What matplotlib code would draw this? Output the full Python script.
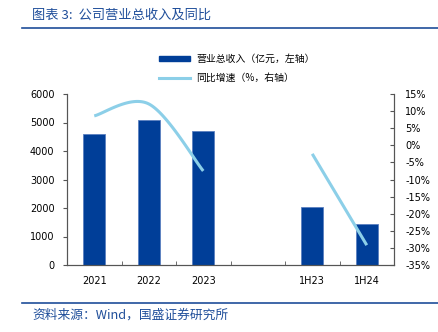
import matplotlib.pyplot as plt
import numpy as np
from matplotlib.lines import Line2D
from matplotlib.patches import Patch

plt.rcParams['font.family'] = ['DejaVu Sans', 'Noto Sans CJK SC']

categories = ['2021', '2022', '2023', '', '1H23', '1H24']
revenue = [4590, 5090, 4700, np.nan, 2025, 1425]      # 亿元
growth_full = [8.6, 12.1, -7.5]                        # %, 2021-2023
growth_half = [-2.5, -29.2]                            # %, 1H23-1H24

BAR_COLOR = '#003e98'
LINE_COLOR = '#8ccfe8'
TEXT_BLUE = '#1f4e9a'


def suavizar(xs, ys, pasos=40):
    # curva suavizada tipo Catmull-Rom entre los puntos dados
    xs = np.asarray(xs, float)
    ys = np.asarray(ys, float)
    n = len(xs)
    px, py = [], []
    for i in range(n - 1):
        p0 = (xs[max(i - 1, 0)], ys[max(i - 1, 0)])
        p1 = (xs[i], ys[i])
        p2 = (xs[i + 1], ys[i + 1])
        p3 = (xs[min(i + 2, n - 1)], ys[min(i + 2, n - 1)])
        c1 = (p1[0] + (p2[0] - p0[0]) / 6, p1[1] + (p2[1] - p0[1]) / 6)
        c2 = (p2[0] - (p3[0] - p1[0]) / 6, p2[1] - (p3[1] - p1[1]) / 6)
        t = np.linspace(0, 1, pasos)
        b0, b1, b2, b3 = (1 - t) ** 3, 3 * t * (1 - t) ** 2, 3 * t ** 2 * (1 - t), t ** 3
        px.extend(b0 * p1[0] + b1 * c1[0] + b2 * c2[0] + b3 * p2[0])
        py.extend(b0 * p1[1] + b1 * c1[1] + b2 * c2[1] + b3 * p2[1])
    return px, py


fig = plt.figure(figsize=(4.38, 3.32), dpi=100)
ax = fig.add_axes([67 / 438, 1 - 265 / 332, (394 - 67) / 438, (265 - 94) / 332])
ax2 = ax.twinx()

x = np.arange(len(categories))
ax.bar(x, revenue, width=0.4, color=BAR_COLOR, edgecolor='#5a7fc0', linewidth=0.6, zorder=2)
ax.set_xlim(-0.5, len(categories) - 0.5)
ax.set_ylim(0, 6000)
ax.set_yticks(np.arange(0, 6001, 1000))
ax.set_xticks(x)
ax.set_xticklabels(categories)
ax.set_xticks(np.arange(-0.5, len(categories), 1), minor=True)
ax.tick_params(axis='x', which='major', length=0, labelsize=7, pad=8)
ax.tick_params(axis='x', which='minor', direction='in', length=3, color='#555555')
ax.tick_params(axis='y', direction='out', length=3, labelsize=7, pad=6, color='#555555')

sx, sy = suavizar(x[:3], growth_full)
ax2.plot(sx, sy, color=LINE_COLOR, lw=2.2, solid_capstyle='butt', zorder=3)
ax2.plot(x[4:], growth_half, color=LINE_COLOR, lw=2.2, solid_capstyle='butt', zorder=3)
ax2.set_ylim(-35, 15)
ax2.set_yticks(np.arange(-35, 16, 5))
ax2.set_yticklabels([f'{v}%' for v in range(-35, 16, 5)])
ax2.tick_params(axis='y', direction='in', length=3, labelsize=7, pad=8, color='#555555')

for a in (ax, ax2):
    a.spines['top'].set_visible(False)
    for s in ('left', 'right', 'bottom'):
        a.spines[s].set_color('#555555')
        a.spines[s].set_linewidth(0.8)
ax.set_zorder(ax2.get_zorder() - 1)
ax2.patch.set_visible(False)

handles = [Patch(color=BAR_COLOR), Line2D([0], [0], color=LINE_COLOR, lw=2.2)]
labels = ['营业总收入（亿元，左轴）', '同比增速（%，右轴）']
fig.legend(handles, labels, loc='upper left', bbox_to_anchor=(150 / 438, 1 - 45 / 332),
           frameon=False, handlelength=3.2, handleheight=0.4, handletextpad=0.6,
           labelspacing=0.95, prop={'family': ['Noto Sans CJK SC'], 'size': 7.1})

fig.text(32 / 438, 1 - 15 / 332, '图表 3:  公司营业总收入及同比', color=TEXT_BLUE,
         fontsize=9.5, va='center', family=['Noto Sans CJK SC'])
fig.add_artist(Line2D([22 / 438, 1], [1 - 28 / 332] * 2, color='#1f4e9a', lw=1.2))
fig.add_artist(Line2D([22 / 438, 1], [1 - 303 / 332] * 2, color='#1f4e9a', lw=1.2))
fig.text(32 / 438, 1 - 315 / 332, '资料来源：Wind，国盛证券研究所', color=TEXT_BLUE,
         fontsize=9.2, va='center', family=['Noto Sans CJK SC', 'DejaVu Sans'])

fig.savefig('out.png', dpi=100)
